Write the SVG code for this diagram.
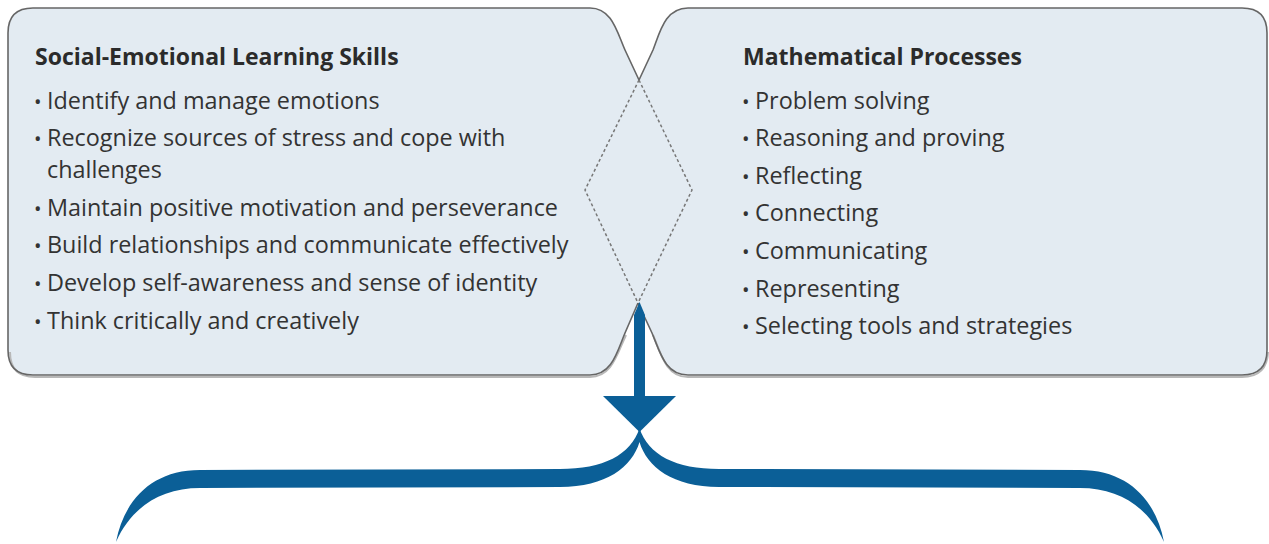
<svg xmlns="http://www.w3.org/2000/svg" width="1269" height="544" viewBox="0 0 1269 544">
<defs>
<style>
.box{fill:#e3ebf2;stroke:none}
.edge{fill:none;stroke:#666;stroke-width:1.6;stroke-linejoin:round}
.shadow{fill:none;stroke:#b8b8b8;stroke-width:2}
.dash{fill:none;stroke:#777;stroke-width:1.5;stroke-dasharray:3 2.5}
.title{font-family:"Open Sans","Liberation Sans",sans-serif;font-weight:bold;font-size:23px;fill:#2b2b2b}
.item{font-family:"Open Sans","Liberation Sans",sans-serif;font-size:23.4px;fill:#333}
.b{font-size:20px}
.blue{fill:#0b5f97}
</style>
</defs>
<rect width="1269" height="544" fill="#fff"/>
<g id="node-sel">
<path class="box" d="M639,80 L692,190 L638,303 L625,333 C617,352 612,375 590,375 L33,375 Q8,375 8,350 L8,33 Q8,8 33,8 L590,8 C612,8 617,32 625,50 Z"/>
<path class="shadow" d="M10,352 Q10,377 35,377 L590,377 C612,377 617,354 626,335"/>
<path class="edge" d="M639,80 L625,50 C617,32 612,8 590,8 L33,8 Q8,8 8,33 L8,350 Q8,375 33,375 L590,375 C612,375 617,352 625,333 L638,303"/>
<text class="title" x="35" y="65">Social-Emotional Learning Skills</text>
<text class="item" x="34" y="109"><tspan class="b">•</tspan><tspan x="47">Identify and manage emotions</tspan></text>
<text class="item" x="34" y="146"><tspan class="b">•</tspan><tspan x="47">Recognize sources of stress and cope with</tspan></text>
<text class="item" x="47" y="178">challenges</text>
<text class="item" x="34" y="216"><tspan class="b">•</tspan><tspan x="47">Maintain positive motivation and perseverance</tspan></text>
<text class="item" x="34" y="253"><tspan class="b">•</tspan><tspan x="47">Build relationships and communicate effectively</tspan></text>
<text class="item" x="34" y="291"><tspan class="b">•</tspan><tspan x="47">Develop self-awareness and sense of identity</tspan></text>
<text class="item" x="34" y="329"><tspan class="b">•</tspan><tspan x="47">Think critically and creatively</tspan></text>
</g>
<g id="node-math">
<path class="box" d="M639,80 L585,190 L638,303 L652,333 C660,352 665,375 688,375 L1242,375 Q1267,375 1267,350 L1267,33 Q1267,8 1242,8 L688,8 C665,8 660,32 653,50 Z"/>
<path class="shadow" d="M653,335 C661,354 666,377 688,377 L1242,377 Q1267,377 1268,352"/>
<path class="edge" d="M639,80 L653,50 C660,32 665,8 688,8 L1242,8 Q1267,8 1267,33 L1267,350 Q1267,375 1242,375 L688,375 C665,375 660,352 652,333 L638,303"/>
<text class="title" x="743" y="65">Mathematical Processes</text>
<text class="item" x="742" y="109"><tspan class="b">•</tspan><tspan x="755">Problem solving</tspan></text>
<text class="item" x="742" y="146"><tspan class="b">•</tspan><tspan x="755">Reasoning and proving</tspan></text>
<text class="item" x="742" y="184"><tspan class="b">•</tspan><tspan x="755">Reflecting</tspan></text>
<text class="item" x="742" y="221"><tspan class="b">•</tspan><tspan x="755">Connecting</tspan></text>
<text class="item" x="742" y="259"><tspan class="b">•</tspan><tspan x="755">Communicating</tspan></text>
<text class="item" x="742" y="297"><tspan class="b">•</tspan><tspan x="755">Representing</tspan></text>
<text class="item" x="742" y="334"><tspan class="b">•</tspan><tspan x="755">Selecting tools and strategies</tspan></text>
</g>
<g id="connectors">
<path class="dash" d="M639,80 L692,190 L638,303"/>
<path class="dash" d="M639,80 L585,190 L638,303"/>
<path class="blue" d="M639.5,302 L645,315 L645,398 L634,398 L634,315 Z"/>
<path class="blue" d="M603,396 L676,396 L639.5,432 Z"/>
<path class="blue" d="M639.5,428 C631,455 603,469 560,469 L200,470 C152,470 124,500 116,542 C131,508 160,488 200,488 L560,487 C606,487 632,467 639.5,442 C647,467 673,487 719,487 L1080,488 C1120,488 1149,508 1164,542 C1156,500 1128,470 1080,470 L719,469 C676,469 648,455 639.5,428 Z"/>
</g>
</svg>
